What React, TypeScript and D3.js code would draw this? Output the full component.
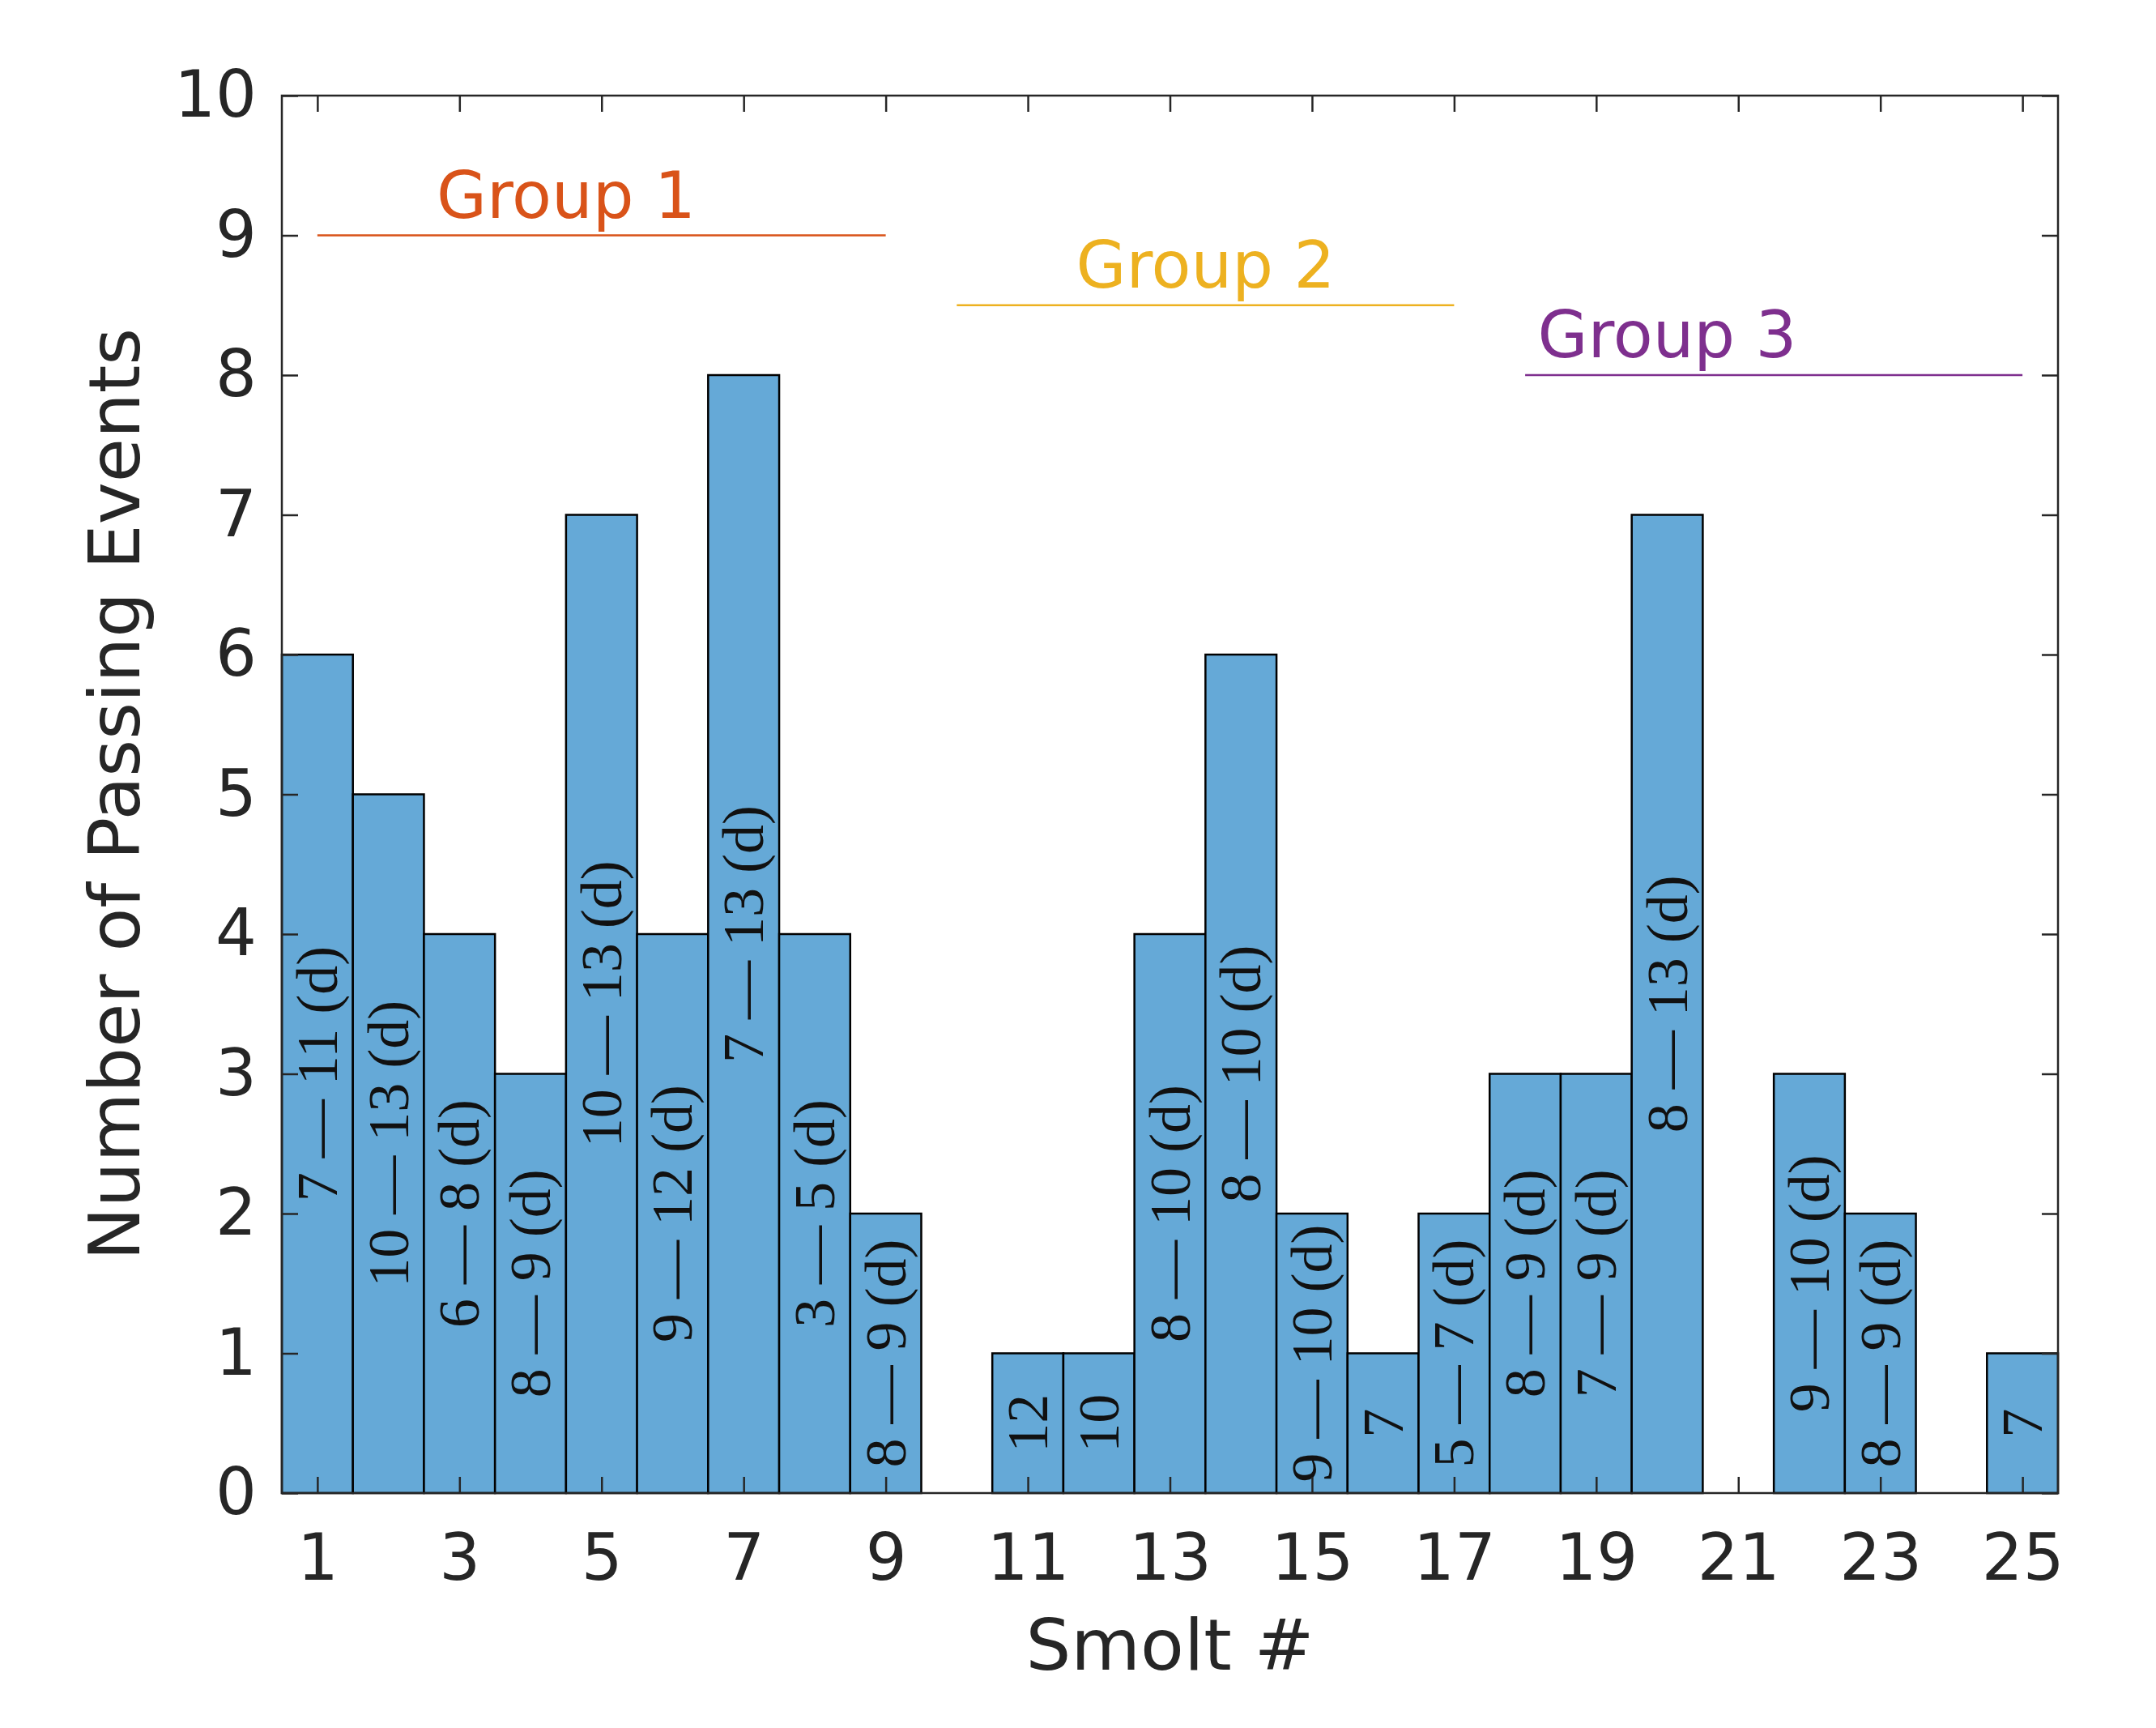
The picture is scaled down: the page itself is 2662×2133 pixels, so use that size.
import React, { useEffect, useRef } from "react";
import * as d3 from "d3";

// smolt number, passing-event counts and the range label drawn in each bar
const smolts = d3.range(1, 26);
const passingEvents = [6, 5, 4, 3, 7, 4, 8, 4, 2, 0, 1, 1, 4, 6, 2, 1, 2, 3, 3, 7, 0, 3, 2, 0, 1];
const barLabels = [
	"7 — 11 (d)", "10 — 13 (d)", "6 — 8 (d)", "8 — 9 (d)", "10 — 13 (d)",
	"9 — 12 (d)", "7 — 13 (d)", "3 — 5 (d)", "8 — 9 (d)", "",
	"12", "10", "8 — 10 (d)", "8 — 10 (d)", "9 — 10 (d)",
	"7", "5 — 7 (d)", "8 — 9 (d)", "7 — 9 (d)", "8 — 13 (d)",
	"", "9 — 10 (d)", "8 — 9 (d)", "", "7",
];

// tick values
const xTicks = [1, 3, 5, 7, 9, 11, 13, 15, 17, 19, 21, 23, 25];
const yTicks = [0, 1, 2, 3, 4, 5, 6, 7, 8, 9, 10];

// group brackets
const groupNames = ["Group 1", "Group 2", "Group 3"];
const groupStart = [1, 10, 18];
const groupEnd = [9, 17, 25];
const groupLevel = [9, 8.5, 8];
const groupLabelX = [4.5, 13.5, 20];
const groupColors = ["#D95319", "#EDB120", "#7E2F8E"];

export default function App() {
	const svgRef = useRef(null);

	useEffect(() => {
		const W = 2662;
		const H = 2133;
		const left = 348, right = 2541, top = 118, bottom = 1843;
		const axisColor = "#262626";
		const sans = "'DejaVu Sans', sans-serif";

		const svg = d3.select(svgRef.current).attr("width", W).attr("height", H);
		svg.append("rect").attr("width", W).attr("height", H).attr("fill", "white");

		const x = d3.scaleLinear().domain([0.5, 25.5]).range([left, right]);
		const y = d3.scaleLinear().domain([0, 10]).range([bottom, top]);
		const bw = x(1) - x(0);

		// Bars
		svg.append("g")
			.selectAll("rect")
			.data(smolts.filter((s, i) => passingEvents[i] > 0))
			.join("rect")
			.attr("x", (s) => x(s - 0.5))
			.attr("width", bw)
			.attr("y", (s) => y(passingEvents[s - 1]))
			.attr("height", (s) => y(0) - y(passingEvents[s - 1]))
			.attr("fill", "#65a9d7")
			.attr("stroke", "black")
			.attr("stroke-width", 2.5);

		// Range labels inside bars (rotated, centred at half height)
		svg.append("g")
			.selectAll("text")
			.data(smolts.filter((s, i) => barLabels[i] !== ""))
			.join("text")
			.attr("transform", (s) => `translate(${x(s)},${y(passingEvents[s - 1] / 2)}) rotate(-90)`)
			.attr("text-anchor", "middle")
			.attr("dominant-baseline", "central")
			.style("font-family", "'Liberation Serif', serif")
			.style("font-size", "72px")
			.attr("fill", "#111")
			.text((s) => barLabels[s - 1]);

		// Axes (ticks pointing inwards, box on)
		const styleAxis = (g) => {
			g.select(".domain").remove();
			g.selectAll("line").attr("stroke", axisColor).attr("stroke-width", 2.5);
			g.selectAll("text")
				.attr("fill", axisColor)
				.style("font-family", sans)
				.style("font-size", "80px");
		};

		svg.append("g")
			.attr("transform", `translate(0,${bottom})`)
			.call(d3.axisBottom(x).tickValues(xTicks).tickSizeInner(-20).tickSizeOuter(0).tickPadding(50))
			.call(styleAxis);
		svg.append("g")
			.attr("transform", `translate(0,${top})`)
			.call(d3.axisTop(x).tickValues(xTicks).tickSizeInner(-20).tickSizeOuter(0).tickFormat(() => ""))
			.call(styleAxis);
		svg.append("g")
			.attr("transform", `translate(${left},0)`)
			.call(d3.axisLeft(y).tickValues(yTicks).tickSizeInner(-20).tickSizeOuter(0).tickPadding(31))
			.call(styleAxis);
		svg.append("g")
			.attr("transform", `translate(${right},0)`)
			.call(d3.axisRight(y).tickValues(yTicks).tickSizeInner(-20).tickSizeOuter(0).tickFormat(() => ""))
			.call(styleAxis);

		// Box
		svg.append("rect")
			.attr("x", left)
			.attr("y", top)
			.attr("width", right - left)
			.attr("height", bottom - top)
			.attr("fill", "none")
			.attr("stroke", axisColor)
			.attr("stroke-width", 2.5);

		// Group lines and labels
		groupNames.forEach((name, i) => {
			svg.append("line")
				.attr("x1", x(groupStart[i]))
				.attr("x2", x(groupEnd[i]))
				.attr("y1", y(groupLevel[i]))
				.attr("y2", y(groupLevel[i]))
				.attr("stroke", groupColors[i])
				.attr("stroke-width", 2.5);
			svg.append("text")
				.attr("x", x(groupLabelX[i]))
				.attr("y", y(groupLevel[i] + 0.125))
				.attr("text-anchor", "middle")
				.style("font-family", sans)
				.style("font-size", "80px")
				.attr("fill", groupColors[i])
				.text(name);
		});

		// X-axis label
		svg.append("text")
			.attr("x", (left + right) / 2)
			.attr("y", 2061)
			.attr("text-anchor", "middle")
			.style("font-family", sans)
			.style("font-size", "88px")
			.attr("fill", axisColor)
			.text("Smolt #");

		// Y-axis label
		svg.append("text")
			.attr("transform", `translate(172,${(top + bottom) / 2}) rotate(-90)`)
			.attr("text-anchor", "middle")
			.style("font-family", sans)
			.style("font-size", "88px")
			.attr("fill", axisColor)
			.text("Number of Passing Events");

		return () => {
			d3.select(svgRef.current).selectAll("*").remove();
		};
	}, []);

	return (
		<div>
			<svg ref={svgRef} style={{ position: "absolute", left: 0, top: 0 }}></svg>
		</div>
	);
}
